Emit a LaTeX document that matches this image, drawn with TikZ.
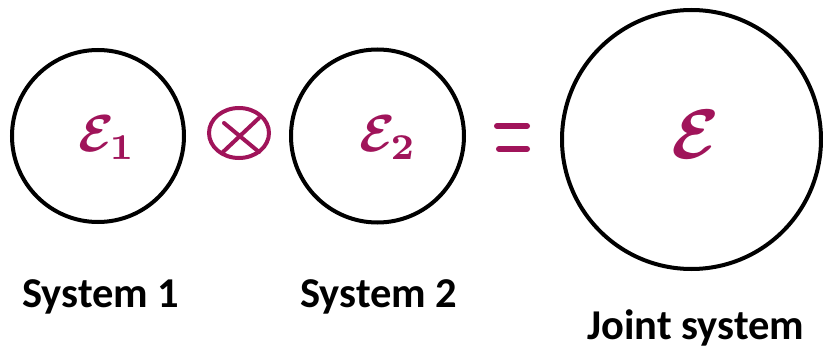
\documentclass[tikz,border=0pt]{standalone}
\usepackage{fontspec}
\usepackage{graphicx}
\setsansfont{Carlito}
\definecolor{ink}{RGB}{160,20,90}
\begin{document}
\begin{tikzpicture}[x=1pt,y=-1pt,
  sysring/.style={circle,draw=black,line width=4pt,inner sep=0pt},
  sysname/.style={font=\sffamily\bfseries\fontsize{42.5}{44}\selectfont,inner sep=0pt,anchor=base west},
  inksym/.style={text=ink,inner sep=0pt,font=\boldmath},
  pen/.style={draw=ink,line width=4pt,line cap=round}]
\useasboundingbox (0,0) rectangle (823,350);

% the three systems
\node[sysring,minimum size=172pt] (s1) at (98,136) {};
\node[sysring,minimum size=173pt] (s2) at (377.5,136) {};
\node[sysring,minimum size=259pt] (joint) at (691.5,139.5) {};

% their state symbols
\node[inksym] (e1) at (107,138) {\scalebox{5.2}{$\mathcal{E}_1$}};
\node[inksym] (e2) at (388,138) {\scalebox{5.2}{$\mathcal{E}_2$}};
\node[inksym] (e) at (696,134) {\scalebox{7}{$\mathcal{E}$}};

% tensor product sign
\coordinate (ot) at (239,133);
\draw[pen] (ot) ellipse [x radius=30, y radius=25];
\draw[pen] (224,123) -- (259,152);
\draw[pen] (259,118) -- (223,152);

% equals sign
\coordinate (eqa) at (497,126);
\coordinate (eqb) at (527,126);
\coordinate (eqc) at (499,149);
\coordinate (eqd) at (527,149);
\draw[pen,line width=6pt] (eqa) -- (eqb);
\draw[pen,line width=6pt] (eqc) -- (eqd);

% labels
\node[sysname] (l1) at (22,307) {System 1};
\node[sysname] (l2) at (300,307) {System 2};
\node[sysname] (lj) at (587,339) {Joint system};
\end{tikzpicture}
\end{document}
